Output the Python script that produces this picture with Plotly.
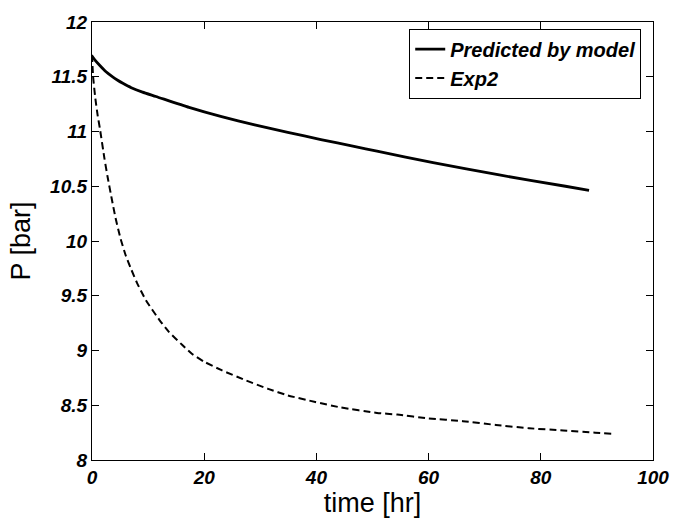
import plotly.graph_objects as go

# Predicted by model
t_model = [0, 0.5, 1.36, 2.5, 3.5, 4.5, 5.5, 7, 9, 11.4, 17.3, 23.1, 29.0, 34.9, 40.8, 46.7, 50.8,
           60.8, 72.6, 84.4, 88.6]
p_model = [11.69, 11.655, 11.605, 11.545, 11.505, 11.47, 11.44, 11.40, 11.36, 11.32, 11.22, 11.135,
           11.06, 10.993, 10.926, 10.864, 10.821, 10.715, 10.603, 10.500, 10.462]

# Exp2 measurement
t_exp = [0, 0.2, 0.6, 1.0, 1.4, 2.2, 2.8, 3.5, 4.2, 5.1, 6, 7, 8, 9.6, 12, 13.7, 16.1, 17.8, 19.9,
         23.1, 27.3, 31.4, 34.9, 39.8, 44.3, 50.8, 54.4, 60, 66.1, 72, 77.9, 84, 89.7, 92.6]
p_exp = [11.70, 11.50, 11.30, 11.15, 11.03, 10.76, 10.58, 10.39, 10.21, 10.02, 9.87, 9.74, 9.62,
         9.46, 9.28, 9.17, 9.05, 8.97, 8.90, 8.82, 8.73, 8.65, 8.59, 8.53, 8.48, 8.43, 8.415,
         8.38, 8.355, 8.32, 8.29, 8.27, 8.25, 8.24]

x_ticks = [0, 20, 40, 60, 80, 100]
y_ticks = [8, 8.5, 9, 9.5, 10, 10.5, 11, 11.5, 12]
y_tick_text = ["8", "8.5", "9", "9.5", "10", "10.5", "11", "11.5", "12"]

FONT = "Liberation Sans, Arial, sans-serif"

fig = go.Figure()
fig.add_trace(go.Scatter(x=t_model, y=p_model, mode="lines", name="<b><i>Predicted by model</i></b>",
                         line=dict(color="black", width=2.8, shape="spline", smoothing=0.5)))
fig.add_trace(go.Scatter(x=t_exp, y=p_exp, mode="lines", name="<b><i>Exp2</i></b>",
                         line=dict(color="black", width=2, dash="7px,4px", shape="spline", smoothing=0.5)))

axis_common = dict(
    showline=True, linecolor="black", linewidth=1.3, mirror="allticks",
    ticks="inside", ticklen=7, tickwidth=1.2, tickcolor="black",
    showgrid=False, zeroline=False,
    tickfont=dict(family=FONT, size=19, color="black"),
)

fig.update_xaxes(range=[0, 100], tickvals=x_ticks,
                 ticktext=["<b><i>%d</i></b>" % v for v in x_ticks],
                 title=dict(text="time [hr]", font=dict(family=FONT, size=27, color="black"), standoff=4),
                 **axis_common)
fig.update_yaxes(range=[8, 12], tickvals=y_ticks,
                 ticktext=["<b><i>%s</i></b>" % s for s in y_tick_text],
                 title=dict(text="P [bar]", font=dict(family=FONT, size=27, color="black"), standoff=11),
                 **axis_common)

fig.update_layout(
    width=681, height=523,
    margin=dict(l=92, r=23, t=19, b=62),
    paper_bgcolor="white", plot_bgcolor="white",
    showlegend=True,
    legend=dict(x=0.979, y=0.985, xanchor="right", yanchor="top",
                bgcolor="white", bordercolor="black", borderwidth=1,
                font=dict(family=FONT, size=20, color="black"),
                tracegroupgap=0),
)

fig.write_html("out.html")
